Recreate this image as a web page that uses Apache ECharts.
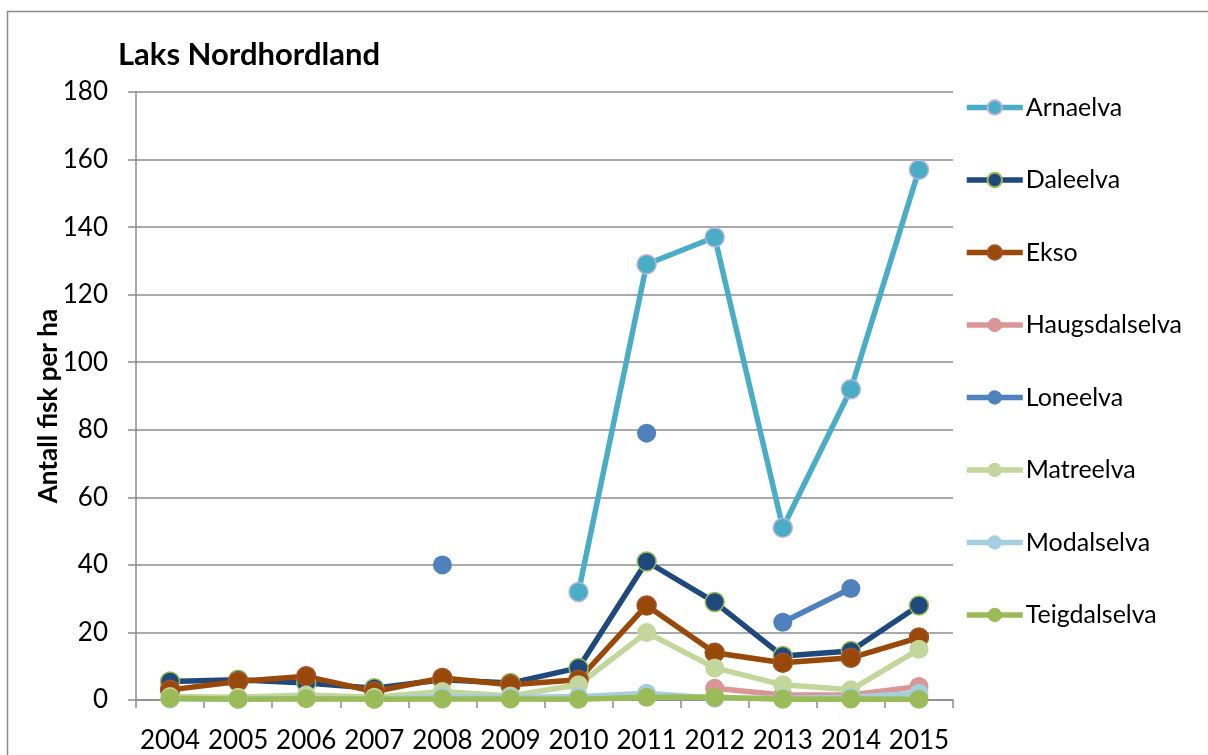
<!DOCTYPE html>
<html>
<head>
<meta charset="utf-8">
<script src="https://cdn.jsdelivr.net/npm/echarts@6/dist/echarts.min.js"></script>
<style>
    html, body { margin: 0; padding: 0; background: #ffffff; }
    #chart { width: 1208px; height: 755px; }
</style>
</head>
<body>
<div id="chart"></div>
<script>
const years = ["2004", "2005", "2006", "2007", "2008", "2009", "2010", "2011", "2012", "2013", "2014", "2015"];

const arnaelva = [null, null, null, null, null, null, 32, 129, 137, 51, 92, 157];
const daleelva = [5.5, 6, 5, 3.5, 6, 5, 9.5, 41, 29, 13, 14.5, 28];
const ekso = [3, 5.5, 7, 2.5, 6.5, 4.5, 6, 28, 14, 11, 12.5, 18.5];
const haugsdalselva = [null, null, null, null, null, null, null, null, 3.5, 1.5, 1.5, 4];
const loneelva = [null, null, null, null, 40, null, null, 79, null, 23, 33, null];
const matreelva = [1, 0.8, 1.5, 0.8, 2.5, 1.2, 4.5, 20, 9.5, 4.5, 3, 15];
const modalselva = [0.3, 0.2, 0.5, 0.3, 1, 0.8, 1, 2, 0.5, 0.5, 0.8, 2];
const teigdalselva = [0.5, 0.2, 0.4, 0.2, 0.3, 0.3, 0.2, 0.8, 0.8, 0.2, 0.3, 0.2];

const yTicks = [0, 20, 40, 60, 80, 100, 120, 140, 160, 180];
const yAxisTitle = "Antall fisk per ha";

const FONT = "Lato";
const GRID_COLOR = "#8c8c8c";

function lineSeries(name, data, color, borderColor) {
    return {
        name: name,
        type: "line",
        data: data,
        connectNulls: false,
        symbol: "circle",
        symbolSize: 19,
        lineStyle: { color: color, width: 5.5 },
        itemStyle: {
            color: color,
            borderColor: borderColor || color,
            borderWidth: borderColor ? 1.5 : 0
        },
        emphasis: { disabled: true },
        animation: false
    };
}

const chart = echarts.init(document.getElementById("chart"));

chart.setOption({
    backgroundColor: "#ffffff",
    title: {
        text: "Laks Nordhordland",
        left: 113,
        top: 34,
        textStyle: {
            fontFamily: FONT,
            fontWeight: "bold",
            fontSize: 31,
            color: "#000000"
        }
    },
    legend: {
        orient: "vertical",
        left: 964,
        top: 95,
        padding: 0,
        itemWidth: 56,
        itemHeight: 18,
        itemGap: 47.5,
        lineStyle: { width: 5.5 },
        textStyle: {
            fontFamily: FONT,
            fontSize: 25,
            lineHeight: 22,
            color: "#000000",
            padding: [0, 0, 0, -2]
        }
    },
    graphic: [
        {
            type: "rect",
            shape: { x: 7.5, y: 11.5, width: 1400, height: 1000 },
            style: { fill: "none", stroke: GRID_COLOR, lineWidth: 1.5 },
            silent: true
        },
        {
            type: "text",
            x: 49,
            y: 406,
            rotation: Math.PI / 2,
            style: {
                text: yAxisTitle,
                fontFamily: FONT,
                fontWeight: "bold",
                fontSize: 26,
                fill: "#000000",
                align: "center",
                verticalAlign: "middle"
            },
            silent: true
        }
    ],
    grid: {
        left: 136,
        right: 255,
        top: 92,
        bottom: 55
    },
    xAxis: {
        type: "category",
        data: years,
        boundaryGap: true,
        axisLine: { lineStyle: { color: GRID_COLOR, width: 1.5 } },
        axisTick: { show: true, length: 8, inside: false, lineStyle: { color: GRID_COLOR, width: 1.5 } },
        axisLabel: {
            interval: 0,
            hideOverlap: false,
            fontFamily: FONT,
            fontSize: 26,
            color: "#000000",
            margin: 28
        }
    },
    yAxis: {
        type: "value",
        min: yTicks[0],
        max: yTicks[yTicks.length - 1],
        interval: 20,
        axisLine: { show: true, lineStyle: { color: GRID_COLOR, width: 1.5 } },
        axisTick: { show: true, length: 8, lineStyle: { color: GRID_COLOR, width: 1.5 } },
        axisLabel: {
            fontFamily: FONT,
            fontSize: 26,
            color: "#000000",
            margin: 28
        },
        splitLine: { show: true, lineStyle: { color: GRID_COLOR, width: 1.5 } }
    },
    series: [
        lineSeries("Arnaelva", arnaelva, "#4bacc6", "#b4b4d8"),
        lineSeries("Daleelva", daleelva, "#1f497d", "#9bbb59"),
        lineSeries("Ekso", ekso, "#984807", "#a0522d"),
        lineSeries("Haugsdalselva", haugsdalselva, "#d99694"),
        lineSeries("Loneelva", loneelva, "#4f81bd"),
        lineSeries("Matreelva", matreelva, "#c3d69b"),
        lineSeries("Modalselva", modalselva, "#a5cfe0"),
        lineSeries("Teigdalselva", teigdalselva, "#9bbb59")
    ]
});
</script>
</body>
</html>
